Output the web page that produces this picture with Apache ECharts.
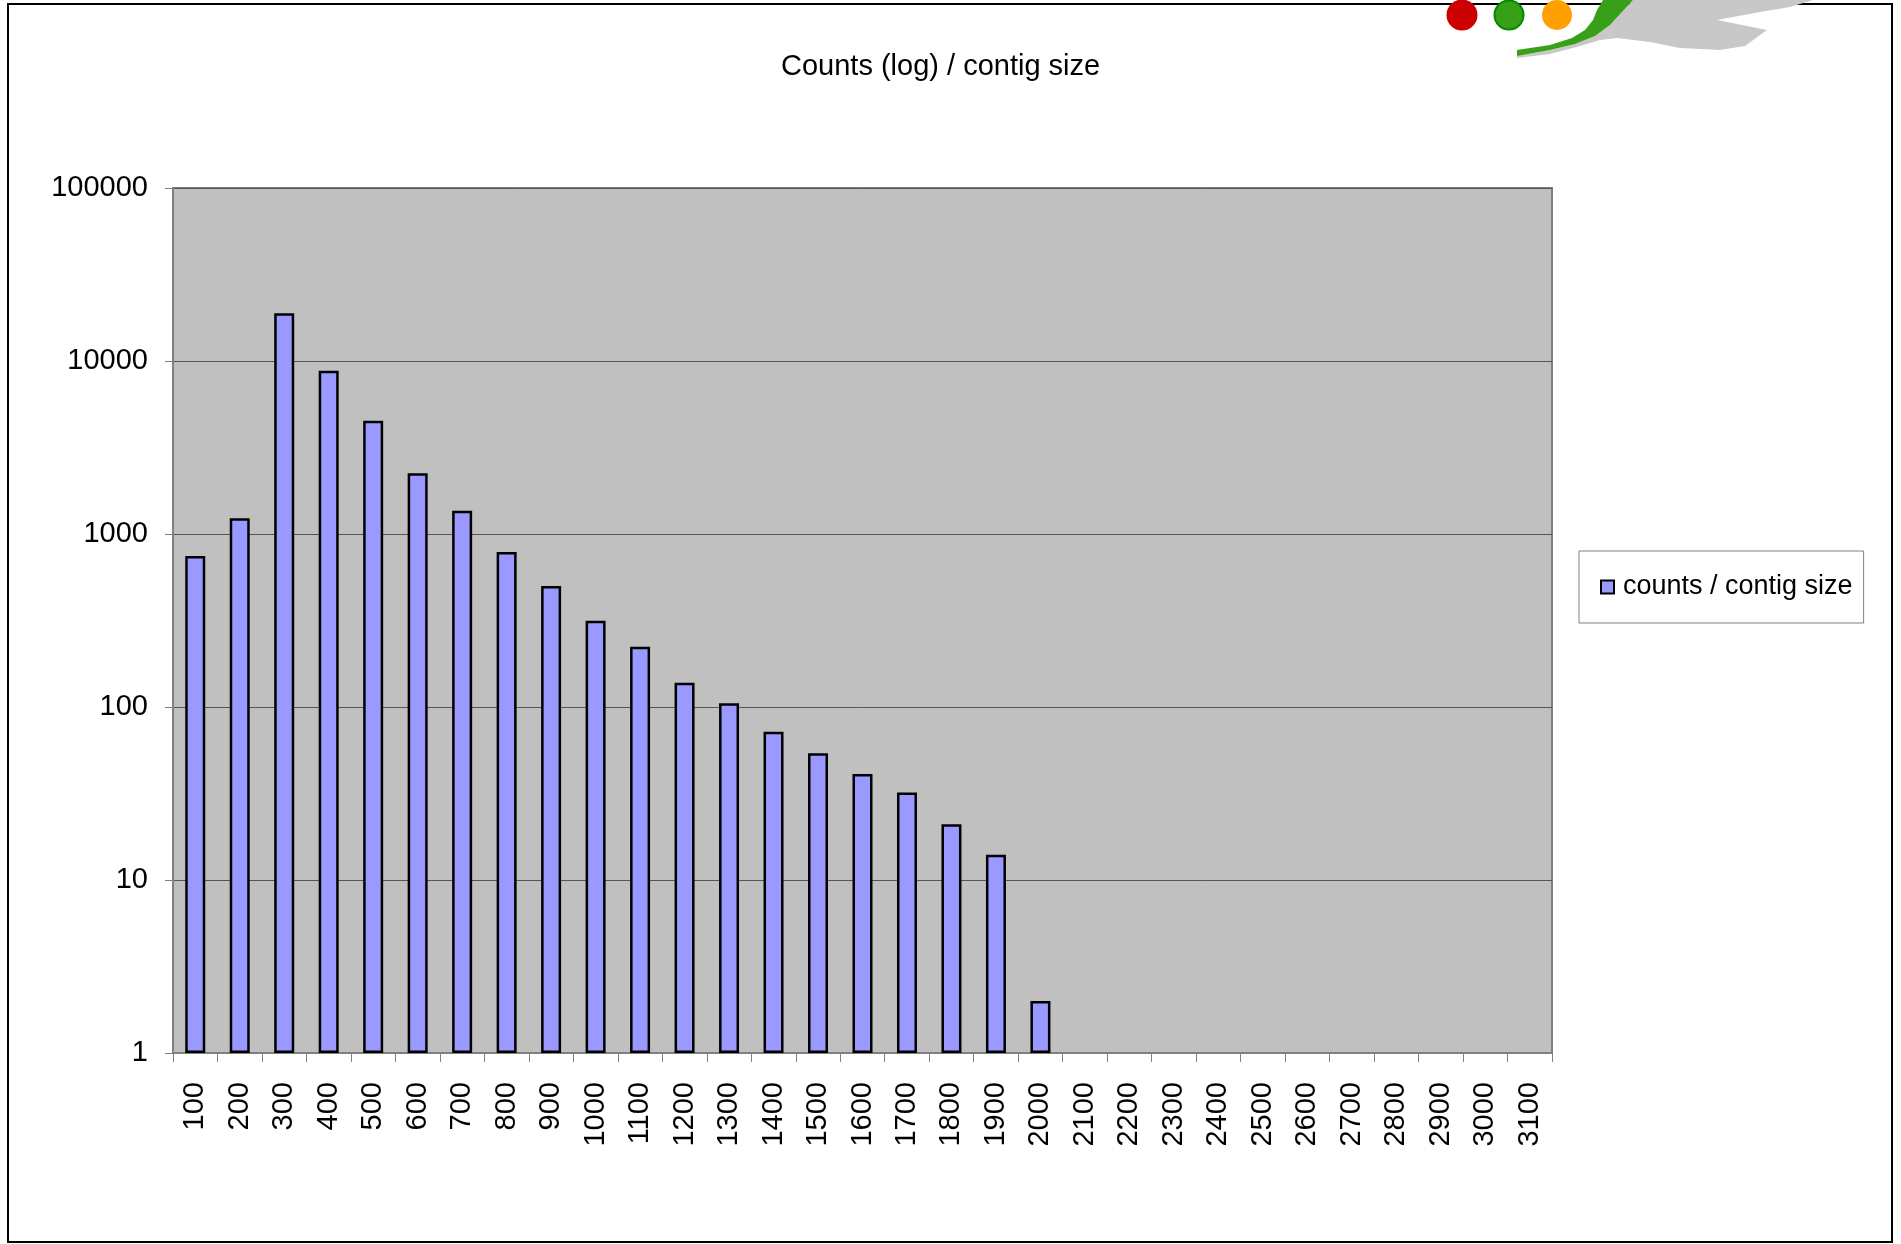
<!DOCTYPE html>
<html>
<head>
<meta charset="utf-8">
<script src="https://cdn.jsdelivr.net/npm/echarts@6/dist/echarts.min.js"></script>
<style>
html,body{margin:0;padding:0;background:#fff;}
#chart{width:1901px;height:1244px;}
</style>
</head>
<body>
<div id="chart"></div>
<script>
const categories = ['100','200','300','400','500','600','700','800','900','1000','1100','1200','1300','1400','1500','1600','1700','1800','1900','2000','2100','2200','2300','2400','2500','2600','2700','2800','2900','3000','3100'];
const counts = [746, 1233, 18870, 8790, 4518, 2244, 1364, 787, 501, 315, 223, 138, 105, 72, 54, 41, 32, 21, 14, 2, null, null, null, null, null, null, null, null, null, null, null];
const yTickLabels = ['1','10','100','1000','10000','100000'];
const seriesName = 'counts / contig size';
const titleText = 'Counts (log) / contig size';

const FONT = '"Liberation Sans", Arial, sans-serif';
const chart = echarts.init(document.getElementById('chart'), null, {renderer: 'canvas'});
chart.setOption({
  backgroundColor: '#ffffff',
  animation: false,
  title: {
    text: titleText,
    left: 776,
    top: 47,
    textStyle: {fontFamily: FONT, fontSize: 29, fontWeight: 'normal', color: '#000'}
  },
  legend: {
    left: 1579,
    top: 551,
    orient: 'vertical',
    data: [seriesName],
    icon: 'rect',
    itemWidth: 13,
    itemHeight: 13,
    padding: [22, 11, 22, 21],
    borderColor: '#808080',
    borderWidth: 1,
    backgroundColor: '#fff',
    textStyle: {fontFamily: FONT, fontSize: 27, color: '#000', lineHeight: 28, padding: [0, 0, 0, 4]}
  },
  grid: {
    left: 173, top: 188, right: 349, bottom: 191,
    show: true,
    backgroundColor: '#c0c0c0',
    borderColor: '#808080',
    borderWidth: 2
  },
  xAxis: {
    type: 'category',
    data: categories,
    boundaryGap: true,
    axisLine: {show: true, lineStyle: {color: '#808080', width: 2}},
    axisTick: {show: true, length: 9, alignWithLabel: false, interval: 0, lineStyle: {color: '#808080', width: 1}},
    axisLabel: {interval: 0, rotate: 90, margin: 29, fontFamily: FONT, fontSize: 29, color: '#000'},
    splitLine: {show: false}
  },
  yAxis: {
    type: 'log',
    logBase: 10,
    min: 1,
    max: 100000,
    axisLine: {show: true, lineStyle: {color: '#808080', width: 2}},
    axisTick: {show: true, length: 8, lineStyle: {color: '#808080', width: 1}},
    axisLabel: {
      margin: 25, fontFamily: FONT, fontSize: 29, color: '#000', padding: [6, 0, 0, 0],
      formatter: function (v) { const s = String(Math.round(v)); return yTickLabels.indexOf(s) >= 0 ? s : ''; }
    },
    splitLine: {show: true, lineStyle: {color: '#555555', width: 1}}
  },
  series: [{
    name: seriesName,
    type: 'bar',
    data: counts,
    barWidth: 20,
    itemStyle: {color: '#9999ff', borderColor: '#000000', borderWidth: 2.5}
  }],
  graphic: [
    {type: 'rect', z: 100, silent: true, shape: {x: 8, y: 4, width: 1884, height: 1238}, style: {fill: 'none', stroke: '#000', lineWidth: 2}},
    {type: 'polygon', z: 101, silent: true, shape: {points: [[1517,58],[1550,54],[1580,46],[1600,40],[1617,38],[1650,42],[1680,48],[1720,50],[1745,46],[1767,30],[1717,20],[1760,12],[1790,7],[1813,0],[1633,0],[1622,12],[1610,25],[1595,36],[1575,44],[1550,50],[1517,56]]}, style: {fill: '#c8c8c8'}},
    {type: 'polygon', z: 102, silent: true, shape: {points: [[1517,50],[1550,45],[1572,38],[1585,30],[1593,20],[1597,10],[1603,0],[1633,0],[1622,12],[1610,25],[1595,36],[1575,44],[1550,50],[1517,56]]}, style: {fill: '#38a018'}},
    {type: 'circle', z: 102, silent: true, shape: {cx: 1462, cy: 15, r: 15.5}, style: {fill: '#cc0000'}},
    {type: 'circle', z: 102, silent: true, shape: {cx: 1509, cy: 15, r: 14.5}, style: {fill: '#38a018', stroke: '#008a00', lineWidth: 2}},
    {type: 'circle', z: 102, silent: true, shape: {cx: 1557, cy: 15, r: 15}, style: {fill: '#ffa000'}}
  ]
});
</script>
</body>
</html>
